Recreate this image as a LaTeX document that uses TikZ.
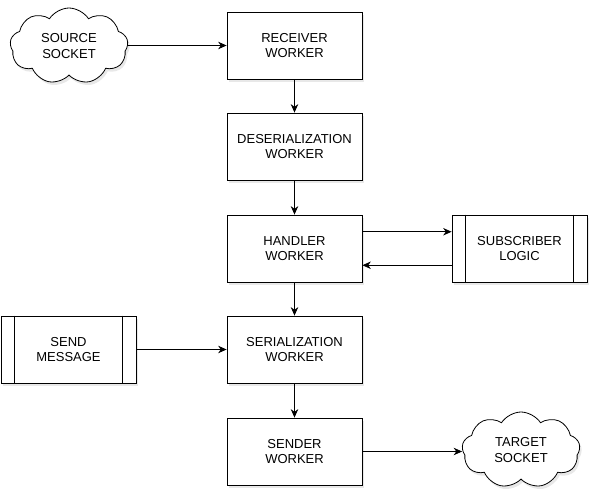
\documentclass[tikz,border=0pt]{standalone}
\usepackage{fontspec}
\setmainfont{Liberation Sans}
\usetikzlibrary{arrows.meta,shapes.symbols,shadows}

\begin{document}
\begin{tikzpicture}[x=1pt,y=-1pt,
        worker/.style={draw=black, fill=white, line width=0.8pt, minimum width=135pt, minimum height=67pt,
            align=center, font=\fontsize{13}{15.5}\selectfont, drop shadow={opacity=0.18, shadow xshift=2pt, shadow yshift=-3pt}},
        sock/.style={cloud, cloud puffs=9, cloud puff arc=115, cloud ignores aspect, draw=black, fill=white, line width=0.8pt,
            minimum width=118pt, minimum height=76pt, align=center, font=\fontsize{13}{15.5}\selectfont,
            drop shadow={opacity=0.18, shadow xshift=2pt, shadow yshift=-3pt}},
        link/.style={line width=0.8pt, -{Stealth[length=8.5pt,width=7.5pt]}}]
        \useasboundingbox (0,0) rectangle (595,500);

        % the workers
        \node[worker] (recv) at (294.5,45.5) {RECEIVER\\WORKER};
        \node[worker] (deser) at (294.5,146.5) {DESERIALIZATION\\WORKER};
        \node[worker] (hand) at (294.5,248.5) {HANDLER\\WORKER};
        \node[worker] (ser) at (294.5,349.5) {SERIALIZATION\\WORKER};
        \node[worker] (send) at (294.5,451.5) {SENDER\\WORKER};

        % processes
        \node[worker] (sub) at (519.5,248.5) {SUBSCRIBER\\LOGIC};
        \draw[line width=0.8pt] ([xshift=14pt]sub.north west) -- ([xshift=14pt]sub.south west);
        \draw[line width=0.8pt] ([xshift=-14pt]sub.north east) -- ([xshift=-14pt]sub.south east);
        \node[worker] (msg) at (68.5,349.5) {SEND\\MESSAGE};
        \draw[line width=0.8pt] ([xshift=14pt]msg.north west) -- ([xshift=14pt]msg.south west);
        \draw[line width=0.8pt] ([xshift=-14pt]msg.north east) -- ([xshift=-14pt]msg.south east);

        % sockets
        \node[sock] (src) at (69,46) {SOURCE\\SOCKET};
        \node[sock] (tgt) at (521,450) {TARGET\\SOCKET};

        % connectors
        \draw[link] (src.east |- recv.west) -- (recv.west);
        \draw[link] (recv) -- (deser);
        \draw[link] (deser) -- (hand);
        \draw[link] (hand) -- (ser);
        \draw[link] (ser) -- (send);
        \draw[link] ([yshift=16.75pt]hand.east) -- ([yshift=16.75pt]sub.west);
        \draw[link] ([yshift=-16.75pt]sub.west) -- ([yshift=-16.75pt]hand.east);
        \draw[link] (msg) -- (ser);
        \draw[link] (send.east) -- (send.east -| tgt.west);
    \end{tikzpicture}
\end{document}
